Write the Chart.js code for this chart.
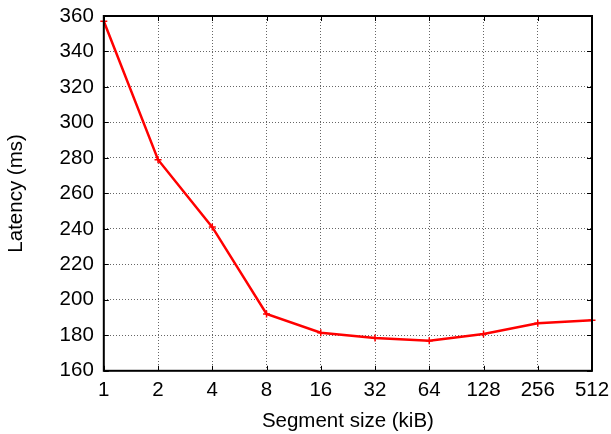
<!DOCTYPE html>
<html><head><meta charset="utf-8">
<script src="https://cdn.jsdelivr.net/npm/chart.js@4"></script>
<style>html,body{margin:0;padding:0;background:#fff}#wrap{width:611px;height:434px}</style>
</head><body><div id="wrap"><canvas id="c" width="611" height="434"></canvas></div>
<script>
const categories = ["1","2","4","8","16","32","64","128","256","512"];
const latency = [357, 279, 241, 192, 181.5, 178.5, 177, 180.7, 186.8, 188.5];
const yTicks = [160,180,200,220,240,260,280,300,320,340,360];

const frame = {
  id:'frame',
  afterDraw(chart){
    const {ctx, chartArea:a, scales:{x,y}} = chart;
    ctx.save();
    ctx.strokeStyle='#000'; ctx.lineWidth=1;
    ctx.beginPath();
    yTicks.forEach(v=>{const py=Math.round(y.getPixelForValue(v))+0.5;
      ctx.moveTo(a.left,py);ctx.lineTo(a.left+5,py);
      ctx.moveTo(a.right,py);ctx.lineTo(a.right-5,py);});
    categories.forEach((c,i)=>{const px=Math.round(x.getPixelForValue(i))+0.5;
      ctx.moveTo(px,a.bottom);ctx.lineTo(px,a.bottom-5);
      ctx.moveTo(px,a.top);ctx.lineTo(px,a.top+5);});
    ctx.stroke();
    ctx.lineWidth=2;
    ctx.strokeRect(a.left,a.top,a.right-a.left,a.bottom-a.top);
    ctx.restore();
  }
};
const F = {family:'Liberation Sans',size:20.5};
new Chart(document.getElementById('c'),{
  type:'line',
  data:{labels:categories,datasets:[{data:latency,borderColor:'#ff0000',backgroundColor:'#ff0000',
    borderWidth:2.5,pointStyle:'cross',pointRadius:3.5,pointBorderWidth:1.5,tension:0}]},
  options:{
    responsive:false,animation:false,
    layout:{padding:{top:16,right:19,left:4,bottom:0}},
    plugins:{legend:{display:false},tooltip:{enabled:false}},
    scales:{
      x:{type:'category',offset:false,
        afterFit(s){s.paddingRight=0;s.paddingLeft=0;},
        grid:{color:'#666',lineWidth:1,drawTicks:false},
        border:{display:false,dash:[1,2]},
        ticks:{color:'#000',font:F,padding:7,maxRotation:0,autoSkip:false},
        title:{display:true,text:'Segment size (kiB)',color:'#000',font:F,padding:{top:0,bottom:0}}},
      y:{min:160,max:360,
        afterBuildTicks(s){s.ticks=yTicks.map(v=>({value:v}));},
        afterFit(s){s.paddingTop=0;s.paddingBottom=0;},
        grid:{color:'#666',lineWidth:1,drawTicks:false},
        border:{display:false,dash:[1,2]},
        ticks:{color:'#000',font:F,padding:10},
        title:{display:true,text:'Latency (ms)',color:'#000',font:F,padding:{top:0,bottom:21}}}
    }
  },
  plugins:[frame]
});
</script></body></html>
